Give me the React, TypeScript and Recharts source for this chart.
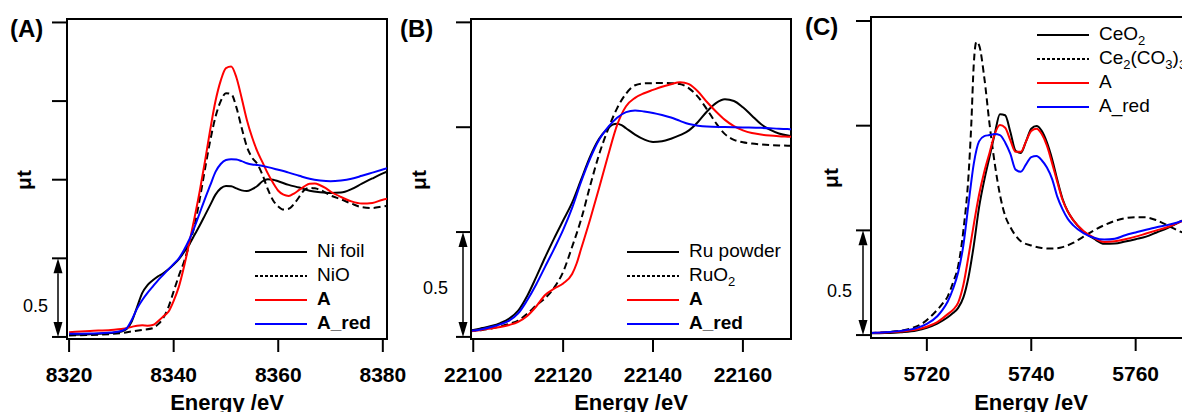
import React from 'react';
import {
  LineChart, Line, XAxis, YAxis, ReferenceArea, ReferenceLine, Legend,
} from 'recharts';

type Pt = [number, number];

const FONT = '"Liberation Sans", Arial, sans-serif';

// ---- Panel A: Ni K-edge ----
const A_X_TICKS = [8320, 8340, 8360, 8380];
const A_Y_TICKS = [0, 0.5, 1, 1.5, 2];
const A_LABELS = ['Ni foil', 'NiO', 'A', 'A_red'];

const NI_FOIL: Pt[] = [
  [8320, 0.013], [8324, 0.017], [8328, 0.025], [8330, 0.035], [8331, 0.05],
  [8332, 0.1], [8333, 0.19], [8334, 0.28], [8335, 0.33], [8336, 0.36],
  [8337, 0.385], [8338, 0.405], [8339, 0.43], [8340, 0.46], [8341, 0.495],
  [8342, 0.54], [8343, 0.59], [8344, 0.65], [8345, 0.71], [8346, 0.775],
  [8347, 0.84], [8348, 0.905], [8349, 0.945], [8350, 0.96], [8351, 0.958],
  [8352, 0.945], [8353, 0.932], [8354, 0.928], [8355, 0.94], [8356, 0.96],
  [8357, 0.99], [8358, 1.003], [8359, 1.0], [8360, 0.99], [8362, 0.967],
  [8364, 0.95], [8366, 0.93], [8368, 0.92], [8370, 0.915], [8372, 0.918],
  [8374, 0.94], [8376, 0.975], [8378, 1.008], [8380, 1.04], [8381, 1.055],
];

const NIO: Pt[] = [
  [8320, 0.01], [8326, 0.015], [8330, 0.025], [8332, 0.035], [8334, 0.045],
  [8336, 0.055], [8337, 0.08], [8338, 0.12], [8339, 0.19], [8340, 0.29],
  [8341, 0.39], [8342, 0.48], [8343, 0.59], [8344, 0.71], [8345, 0.88],
  [8346, 1.07], [8347, 1.25], [8348, 1.4], [8349, 1.5], [8350, 1.55],
  [8351, 1.545], [8352, 1.46], [8353, 1.33], [8354, 1.21], [8355, 1.14],
  [8356, 1.1], [8357, 1.03], [8358, 0.94], [8359, 0.87], [8360, 0.83],
  [8361, 0.81], [8362, 0.815], [8363, 0.845], [8364, 0.89], [8365, 0.935],
  [8366, 0.948], [8367, 0.945], [8368, 0.936], [8370, 0.9], [8372, 0.875],
  [8374, 0.848], [8376, 0.825], [8378, 0.82], [8380, 0.83], [8381, 0.835],
];

const A_NI: Pt[] = [
  [8320, 0.03], [8324, 0.038], [8328, 0.045], [8330, 0.05], [8332, 0.064],
  [8333, 0.072], [8334, 0.074], [8335, 0.072], [8336, 0.076], [8337, 0.1],
  [8338, 0.13], [8339, 0.16], [8340, 0.23], [8341, 0.32], [8342, 0.45],
  [8343, 0.6], [8344, 0.76], [8345, 0.93], [8346, 1.12], [8347, 1.32],
  [8348, 1.5], [8349, 1.63], [8350, 1.71], [8351, 1.72], [8352, 1.65],
  [8353, 1.52], [8354, 1.38], [8355, 1.27], [8356, 1.18], [8357, 1.11],
  [8358, 1.04], [8359, 0.98], [8360, 0.93], [8361, 0.905], [8362, 0.897],
  [8363, 0.912], [8364, 0.935], [8365, 0.958], [8366, 0.975], [8367, 0.976],
  [8368, 0.965], [8369, 0.948], [8370, 0.925], [8372, 0.89], [8374, 0.862],
  [8376, 0.848], [8378, 0.852], [8380, 0.873], [8381, 0.88],
];

const A_RED_NI: Pt[] = [
  [8320, 0.02], [8324, 0.022], [8328, 0.028], [8330, 0.038], [8331, 0.055],
  [8332, 0.11], [8333, 0.18], [8334, 0.235], [8335, 0.28], [8336, 0.32],
  [8337, 0.36], [8338, 0.395], [8339, 0.43], [8340, 0.465], [8341, 0.5],
  [8342, 0.555], [8343, 0.62], [8344, 0.7], [8345, 0.79], [8346, 0.88],
  [8347, 0.965], [8348, 1.05], [8349, 1.1], [8350, 1.125], [8351, 1.13],
  [8352, 1.128], [8353, 1.118], [8354, 1.105], [8355, 1.097], [8356, 1.093],
  [8358, 1.08], [8360, 1.063], [8362, 1.045], [8364, 1.025], [8366, 1.006],
  [8368, 0.995], [8370, 0.99], [8372, 0.995], [8374, 1.006], [8376, 1.025],
  [8378, 1.045], [8380, 1.065], [8381, 1.075],
];

// ---- Panel B: Ru K-edge ----
const B_X_TICKS = [22100, 22120, 22140, 22160];
const B_Y_TICKS = [0, 0.5, 1, 1.5];
const B_LABELS = ['Ru powder', 'RuO{2}', 'A', 'A_red'];

const RU_POWDER: Pt[] = [
  [22099, 0.031], [22100, 0.033], [22102, 0.042], [22104, 0.052], [22106, 0.066],
  [22108, 0.087], [22110, 0.125], [22112, 0.195], [22114, 0.285], [22116, 0.38],
  [22118, 0.47], [22120, 0.555], [22122, 0.64], [22124, 0.75], [22126, 0.86],
  [22128, 0.945], [22130, 0.995], [22131, 1.012], [22132, 1.017], [22133, 1.01],
  [22134, 0.995], [22136, 0.965], [22138, 0.942], [22140, 0.93], [22142, 0.933],
  [22144, 0.945], [22146, 0.962], [22148, 0.985], [22150, 1.025], [22152, 1.075],
  [22154, 1.115], [22156, 1.133], [22158, 1.125], [22160, 1.095], [22162, 1.055],
  [22164, 1.015], [22166, 0.988], [22168, 0.97], [22170, 0.96], [22171, 0.957],
];

const RUO2: Pt[] = [
  [22099, 0.028], [22100, 0.029], [22102, 0.033], [22104, 0.04], [22106, 0.05],
  [22108, 0.062], [22110, 0.078], [22112, 0.11], [22114, 0.15], [22116, 0.185],
  [22118, 0.235], [22120, 0.31], [22122, 0.43], [22124, 0.56], [22126, 0.72],
  [22128, 0.87], [22130, 0.99], [22132, 1.09], [22134, 1.16], [22136, 1.2],
  [22138, 1.209], [22140, 1.21], [22142, 1.211], [22144, 1.21], [22146, 1.206],
  [22148, 1.185], [22150, 1.145], [22152, 1.085], [22154, 1.02], [22156, 0.967],
  [22158, 0.94], [22160, 0.928], [22162, 0.922], [22164, 0.918], [22166, 0.915],
  [22168, 0.913], [22170, 0.912], [22171, 0.912],
];

const A_RU: Pt[] = [
  [22099, 0.027], [22100, 0.028], [22102, 0.034], [22104, 0.04], [22106, 0.047],
  [22108, 0.057], [22110, 0.072], [22112, 0.1], [22114, 0.145], [22116, 0.2],
  [22118, 0.23], [22120, 0.255], [22122, 0.3], [22123, 0.35], [22124, 0.42],
  [22126, 0.56], [22128, 0.71], [22130, 0.865], [22132, 1.01], [22134, 1.1],
  [22136, 1.14], [22138, 1.162], [22140, 1.178], [22142, 1.193], [22144, 1.205],
  [22146, 1.214], [22147, 1.212], [22148, 1.205], [22150, 1.17], [22152, 1.12],
  [22154, 1.075], [22156, 1.035], [22158, 1.005], [22160, 0.985], [22162, 0.972],
  [22164, 0.965], [22166, 0.96], [22168, 0.957], [22170, 0.955], [22171, 0.954],
];

const A_RED_RU: Pt[] = [
  [22099, 0.029], [22100, 0.03], [22102, 0.037], [22104, 0.047], [22106, 0.06],
  [22108, 0.078], [22110, 0.112], [22112, 0.175], [22114, 0.25], [22116, 0.335],
  [22118, 0.42], [22120, 0.51], [22122, 0.615], [22124, 0.74], [22126, 0.85],
  [22128, 0.94], [22130, 1.0], [22132, 1.045], [22134, 1.072], [22136, 1.08],
  [22138, 1.075], [22140, 1.068], [22142, 1.058], [22144, 1.046], [22146, 1.03],
  [22148, 1.015], [22150, 1.007], [22152, 1.003], [22156, 1.001], [22160, 0.999],
  [22164, 0.997], [22168, 0.993], [22170, 0.991], [22171, 0.99],
];

// ---- Panel C: Ce L3-edge ----
const C_X_TICKS = [5720, 5740, 5760];
const C_Y_TICKS = [0, 0.5, 1, 1.5];
const C_LABELS = ['CeO{2}', 'Ce{2}(CO{3}){3}', 'A', 'A_red'];

const CEO2: Pt[] = [
  [5709, 0.008], [5712, 0.01], [5715, 0.014], [5718, 0.022], [5720, 0.035],
  [5722, 0.055], [5724, 0.085], [5725, 0.105], [5726, 0.13], [5727, 0.18],
  [5728, 0.28], [5729, 0.43], [5730, 0.61], [5731, 0.74], [5732, 0.85],
  [5733, 0.96], [5734, 1.055], [5735, 1.05], [5736, 0.97], [5737, 0.88],
  [5738, 0.87], [5739, 0.925], [5740, 0.985], [5741, 0.998], [5742, 0.975],
  [5743, 0.92], [5744, 0.84], [5745, 0.74], [5746, 0.65], [5747, 0.59],
  [5748, 0.55], [5750, 0.495], [5752, 0.46], [5754, 0.436], [5756, 0.437],
  [5758, 0.447], [5760, 0.458], [5762, 0.47], [5764, 0.49], [5766, 0.51],
  [5768, 0.535], [5770, 0.56], [5771, 0.57],
];

const CE2CO3: Pt[] = [
  [5709, 0.01], [5712, 0.014], [5715, 0.021], [5717, 0.032], [5719, 0.053],
  [5721, 0.095], [5723, 0.15], [5724, 0.185], [5725, 0.25], [5726, 0.33],
  [5727, 0.5], [5728, 0.77], [5728.5, 1.0], [5729, 1.3], [5729.5, 1.4],
  [5730, 1.385], [5731, 1.23], [5732, 1.01], [5733, 0.82], [5734, 0.67],
  [5735, 0.57], [5736, 0.515], [5737, 0.475], [5738, 0.448], [5740, 0.428],
  [5742, 0.416], [5744, 0.413], [5746, 0.42], [5748, 0.44], [5750, 0.47],
  [5752, 0.5], [5754, 0.525], [5756, 0.545], [5758, 0.558], [5760, 0.563],
  [5762, 0.562], [5764, 0.548], [5766, 0.525], [5768, 0.5], [5770, 0.48],
  [5771, 0.47],
];

const A_CE: Pt[] = [
  [5709, 0.01], [5712, 0.012], [5715, 0.017], [5718, 0.026], [5720, 0.04],
  [5722, 0.062], [5724, 0.1], [5725, 0.12], [5726, 0.155], [5727, 0.24],
  [5728, 0.38], [5729, 0.53], [5730, 0.67], [5731, 0.78], [5732, 0.87],
  [5733, 0.96], [5734, 1.003], [5735, 0.99], [5736, 0.93], [5737, 0.875],
  [5738, 0.875], [5739, 0.925], [5740, 0.975], [5741, 0.985], [5742, 0.96],
  [5743, 0.905], [5744, 0.82], [5745, 0.73], [5746, 0.645], [5747, 0.59],
  [5748, 0.55], [5750, 0.497], [5752, 0.465], [5754, 0.445], [5756, 0.448],
  [5758, 0.458], [5760, 0.47], [5762, 0.485], [5764, 0.5], [5766, 0.515],
  [5768, 0.535], [5770, 0.555], [5771, 0.565],
];

const A_RED_CE: Pt[] = [
  [5709, 0.01], [5712, 0.013], [5715, 0.02], [5718, 0.033], [5720, 0.053],
  [5722, 0.09], [5723, 0.12], [5724, 0.16], [5725, 0.22], [5726, 0.3],
  [5727, 0.43], [5728, 0.63], [5729, 0.82], [5730, 0.925], [5731, 0.95],
  [5732, 0.955], [5733, 0.96], [5734, 0.955], [5735, 0.92], [5736, 0.865],
  [5737, 0.79], [5738, 0.78], [5739, 0.815], [5740, 0.85], [5741, 0.855],
  [5742, 0.835], [5743, 0.8], [5744, 0.745], [5745, 0.66], [5746, 0.6],
  [5747, 0.555], [5748, 0.525], [5750, 0.487], [5752, 0.465], [5754, 0.456],
  [5756, 0.46], [5758, 0.477], [5760, 0.49], [5762, 0.503], [5764, 0.515],
  [5766, 0.525], [5768, 0.538], [5770, 0.553], [5771, 0.56],
];

// line styles, same order in every panel
const STYLES = [
  { color: '#000000', dash: undefined, legendDash: undefined },
  { color: '#000000', dash: '7 4', legendDash: '3 2' },
  { color: '#ff0000', dash: undefined, legendDash: undefined },
  { color: '#0000ff', dash: undefined, legendDash: undefined },
];

const PANELS = [
  {
    key: 'A', letter: '(A)', left: 0, width: 420, yAxisWidth: 67, marginRight: 33,
    top: 19, bottom: 339, xDomain: [8319.6, 8380.8], yDomain: [-0.013, 2.022],
    xTicks: A_X_TICKS, yTicks: A_Y_TICKS, series: [NI_FOIL, NIO, A_NI, A_RED_NI],
    labels: A_LABELS, bold: [false, false, true, true],
    letterX: 10, letterY: 37, muDx: -36, muY: 180,
    barDx: -9, halfGap: 10, halfDy: 14,
    legendX: 255, legendY: 252,
  },
  {
    key: 'B', letter: '(B)', left: 392, width: 400, yAxisWidth: 79, marginRight: 1,
    top: 19, bottom: 339, xDomain: [22099.5, 22170.7], yDomain: [-0.01, 1.516],
    xTicks: B_X_TICKS, yTicks: B_Y_TICKS, series: [RU_POWDER, RUO2, A_RU, A_RED_RU],
    labels: B_LABELS, bold: [false, false, true, true],
    letterX: 400, letterY: 37, muDx: -45, muY: 180,
    barDx: -8, halfGap: 15, halfDy: 10,
    legendX: 627, legendY: 252,
  },
  {
    key: 'C', letter: '(C)', left: 792, width: 420, yAxisWidth: 79, marginRight: 21,
    top: 17, bottom: 338, xDomain: [5709.3, 5770.6], yDomain: [-0.014, 1.519],
    xTicks: C_X_TICKS, yTicks: C_Y_TICKS, series: [CEO2, CE2CO3, A_CE, A_RED_CE],
    labels: C_LABELS, bold: [false, false, false, false],
    letterX: 805, letterY: 35, muDx: -33, muY: 178,
    barDx: -8, halfGap: 11, halfDy: 14,
    legendX: 1037, legendY: 35,
  },
];

type Panel = typeof PANELS[number];

// "RuO{2}" -> RuO with subscript 2
function richLabel(label: string) {
  const parts = label.split(/(\{[^}]*\})/).filter((s) => s.length > 0);
  let lowered = false;
  return parts.map((p, i) => {
    if (p.startsWith('{')) {
      const dy = lowered ? 0 : 5;
      lowered = true;
      return <tspan key={i} dy={dy} fontSize={13}>{p.slice(1, -1)}</tspan>;
    }
    const dy = lowered ? -5 : 0;
    lowered = false;
    return <tspan key={i} dy={dy}>{p}</tspan>;
  });
}

function LegendBox({ panel }: { panel: Panel }) {
  return (
    <svg width={240} height={110} style={{ display: 'block', overflow: 'visible' }}>
      {panel.labels.map((label, i) => {
        const y = 20 + i * 24;
        const s = STYLES[i];
        return (
          <g key={label + i}>
            <line x1={0} x2={52} y1={y} y2={y} stroke={s.color} strokeWidth={2.2}
              strokeDasharray={s.legendDash} />
            <text x={62} y={y + 5} fontSize={19} fontFamily={FONT} fill="#000"
              fontWeight={panel.bold[i] ? 'bold' : 'normal'}>
              {richLabel(label)}
            </text>
          </g>
        );
      })}
    </svg>
  );
}

function ScaleBar(props: any) {
  const { x1, y1, y2, panel } = props;
  const x = x1 + panel.barDx;
  const yb = Math.max(y1, y2);
  const yt = Math.min(y1, y2);
  const hw = 4.5;
  const hh = 15;
  return (
    <g>
      <line x1={x} x2={x} y1={yt + hh} y2={yb - hh} stroke="#000" strokeWidth={1.5} />
      <polygon points={`${x},${yt} ${x - hw},${yt + hh} ${x + hw},${yt + hh}`} fill="#000" />
      <polygon points={`${x},${yb} ${x - hw},${yb - hh} ${x + hw},${yb - hh}`} fill="#000" />
      <text x={x - panel.halfGap} y={(yt + yb) / 2 + panel.halfDy} textAnchor="end"
        fontSize={18} fontFamily={FONT} fill="#000">0.5</text>
    </g>
  );
}

const NoTick = () => <g />;

function XSpectrum({ panel }: { panel: Panel }) {
  const xAxisHeight = 412 - panel.bottom;

  const yLabel = () => {
    const mx = panel.yAxisWidth + panel.muDx;
    return (
      <g>
        <text x={panel.letterX - panel.left} y={panel.letterY} fontSize={24}
          fontWeight="bold" fontFamily={FONT} fill="#000">{panel.letter}</text>
        <text x={mx} y={panel.muY} transform={`rotate(-90, ${mx}, ${panel.muY})`}
          textAnchor="middle" fontSize={21} fontWeight="bold" fontFamily={FONT}
          fill="#000">μt</text>
      </g>
    );
  };

  const xLabel = (p: any) => {
    const vb = p && p.viewBox ? p.viewBox : { x: panel.yAxisWidth, width: 320 };
    return (
      <text x={vb.x + vb.width / 2} y={410} textAnchor="middle" fontSize={22}
        fontWeight="bold" fontFamily={FONT} fill="#000">Energy /eV</text>
    );
  };

  return (
    <div style={{ position: 'absolute', left: panel.left, top: 0 }}>
      <LineChart width={panel.width} height={412}
        margin={{ top: panel.top, right: panel.marginRight, bottom: 0, left: 0 }}>
        <XAxis type="number" dataKey="x" domain={panel.xDomain} ticks={panel.xTicks}
          allowDataOverflow interval={0} height={xAxisHeight} tickSize={13} tickMargin={15}
          axisLine={{ stroke: '#000', strokeWidth: 2 }}
          tickLine={{ stroke: '#000', strokeWidth: 2 }}
          tick={{ fill: '#000', fontSize: 21, fontWeight: 'bold', fontFamily: FONT }}
          label={xLabel} />
        <YAxis type="number" domain={panel.yDomain} ticks={panel.yTicks}
          allowDataOverflow interval={0} width={panel.yAxisWidth} tickSize={15}
          axisLine={{ stroke: '#000', strokeWidth: 2 }}
          tickLine={{ stroke: '#000', strokeWidth: 2 }}
          tick={NoTick} label={yLabel} />
        <ReferenceArea x1={panel.xDomain[0]} x2={panel.xDomain[1]}
          y1={panel.yDomain[0]} y2={panel.yDomain[1]} ifOverflow="visible"
          fill="none" fillOpacity={0} stroke="#000" strokeWidth={2} />
        <ReferenceLine ifOverflow="visible"
          segment={[{ x: panel.xDomain[0], y: 0 }, { x: panel.xDomain[0], y: 0.5 }]}
          shape={(p: any) => <ScaleBar {...p} panel={panel} />} />
        {panel.series.map((pts, i) => (
          <Line key={panel.key + i} data={pts.map(([x, y]) => ({ x, y }))}
            dataKey="y" type="monotone" stroke={STYLES[i].color}
            strokeDasharray={STYLES[i].dash} strokeWidth={2} dot={false}
            activeDot={false} isAnimationActive={false} />
        ))}
        <Legend layout="vertical" align="center" verticalAlign="middle"
          wrapperStyle={{ left: panel.legendX - panel.left, top: panel.legendY - 20,
            width: 240, height: 110 }}
          content={() => <LegendBox panel={panel} />} />
      </LineChart>
    </div>
  );
}

export default function App() {
  return (
    <div style={{
      position: 'absolute', left: 0, top: 0, width: 1182, height: 412,
      overflow: 'hidden', background: '#fff', fontFamily: FONT,
    }}>
      {PANELS.map((p) => <XSpectrum key={p.key} panel={p} />)}
    </div>
  );
}
